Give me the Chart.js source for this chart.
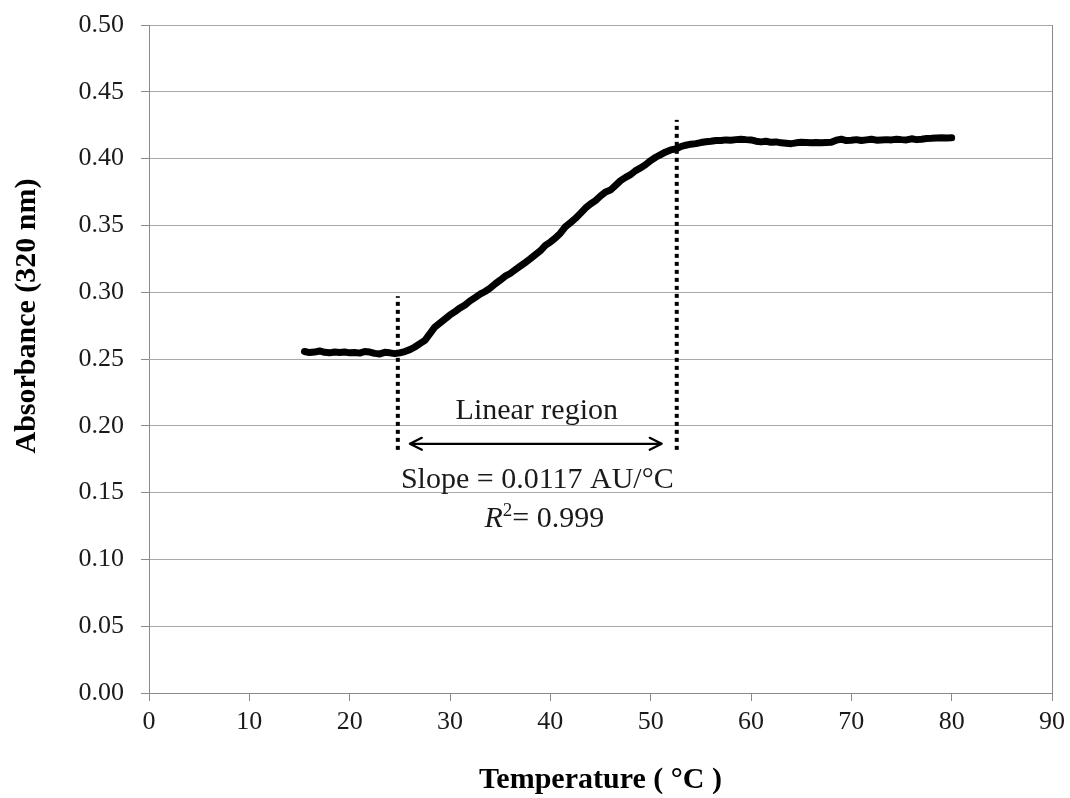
<!DOCTYPE html>
<html>
<head>
<meta charset="utf-8">
<script src="https://cdn.jsdelivr.net/npm/chart.js@4.4.1/dist/chart.umd.min.js"></script>
<style>
  html, body { margin: 0; padding: 0; background: #ffffff; }
  #wrap { width: 1070px; height: 798px; }
</style>
</head>
<body>
<div id="wrap"><canvas id="c" width="1070" height="798"></canvas></div>
<script>
// Temperature scan (°C) and absorbance at 320 nm
const temperature = [
  15.5, 16, 16.5, 17, 17.5, 18, 18.5, 19, 19.5, 20,
  20.5, 21, 21.5, 22, 22.5, 23, 23.5, 24, 24.5, 25,
  25.5, 26, 26.5, 27, 27.5, 28, 28.5, 29, 29.5, 30,
  30.5, 31, 31.5, 32, 32.5, 33, 33.5, 34, 34.5, 35,
  35.5, 36, 36.5, 37, 37.5, 38, 38.5, 39, 39.5, 40,
  40.5, 41, 41.5, 42, 42.5, 43, 43.5, 44, 44.5, 45,
  45.5, 46, 46.5, 47, 47.5, 48, 48.5, 49, 49.5, 50,
  50.5, 51, 51.5, 52, 52.5, 53, 53.5, 54, 54.5, 55,
  55.5, 56, 56.5, 57, 57.5, 58, 58.5, 59, 59.5, 60,
  60.5, 61, 61.5, 62, 62.5, 63, 63.5, 64, 64.5, 65,
  65.5, 66, 66.5, 67, 67.5, 68, 68.5, 69, 69.5, 70,
  70.5, 71, 71.5, 72, 72.5, 73, 73.5, 74, 74.5, 75,
  75.5, 76, 76.5, 77, 77.5, 78, 78.5, 79, 79.5, 80
];
const absorbance = [
  0.2556, 0.2548, 0.2552, 0.2560, 0.2550, 0.2546, 0.2552, 0.2548, 0.2552, 0.2546,
  0.2548, 0.2544, 0.2556, 0.2552, 0.2542, 0.2538, 0.2550, 0.2546, 0.2540, 0.2546,
  0.2556, 0.2570, 0.2590, 0.2615, 0.2640, 0.2690, 0.2740, 0.2770, 0.2800, 0.2830,
  0.2855, 0.2882, 0.2905, 0.2935, 0.2960, 0.2985, 0.3005, 0.3030, 0.3062, 0.3090,
  0.3120, 0.3140, 0.3168, 0.3195, 0.3222, 0.3250, 0.3280, 0.3310, 0.3350, 0.3375,
  0.3405, 0.3442, 0.3490, 0.3520, 0.3552, 0.3590, 0.3630, 0.3660, 0.3685, 0.3720,
  0.3750, 0.3765, 0.3800, 0.3835, 0.3860, 0.3880, 0.3910, 0.3930, 0.3955, 0.3985,
  0.4010, 0.4030, 0.4050, 0.4065, 0.4072, 0.4090, 0.4100, 0.4108, 0.4112, 0.4120,
  0.4126, 0.4130, 0.4136, 0.4135, 0.4140, 0.4138, 0.4142, 0.4145, 0.4142, 0.4140,
  0.4130, 0.4125, 0.4130, 0.4122, 0.4125, 0.4118, 0.4115, 0.4112, 0.4118, 0.4122,
  0.4120, 0.4118, 0.4120, 0.4118, 0.4120, 0.4122, 0.4138, 0.4145, 0.4135, 0.4138,
  0.4142, 0.4135, 0.4140, 0.4145, 0.4138, 0.4140, 0.4142, 0.4140, 0.4145, 0.4142,
  0.4140, 0.4148, 0.4142, 0.4145, 0.4150, 0.4152, 0.4155, 0.4156, 0.4155, 0.4156
];

// Boundaries of the linear region (vertical dotted markers)
const markerStartX = [24.8, 24.8];
const markerStartY = [0.182, 0.297];
const markerEndX = [52.6, 52.6];
const markerEndY = [0.182, 0.429];

// Double arrow spanning the linear region
const arrowFromX = 26.0;
const arrowToX = 51.1;
const arrowY = 0.1865;

// Annotation texts: [text, x, y]
const notes = [
  ['Linear region', 38.65, 0.2112],
  ['Slope = 0.0117 AU/°C', 38.7, 0.1596]
];
const rSquaredNote = { x: 39.4, y: 0.1300, value: '= 0.999' };

// Axis ranges, ticks and titles
const xRange = [0, 90];
const xStep = 10;
const yRange = [0, 0.5];
const yStep = 0.05;
const xTitle = 'Temperature ( °C )';
const yTitle = 'Absorbance (320 nm)';

const serif = "'Liberation Serif', 'Times New Roman', serif";
const gridGrey = '#a9a9a9';
const axisGrey = '#8a8a8a';

function toPoints(xs, ys) { return xs.map((x, i) => ({ x: x, y: ys[i] })); }

const annotationPlugin = {
  id: 'regionNotes',
  afterDraw(chart) {
    const { ctx, chartArea, scales } = chart;
    const xs = scales.x, ys = scales.y;
    ctx.save();

    // right-hand frame line
    ctx.strokeStyle = axisGrey;
    ctx.lineWidth = 1;
    ctx.beginPath();
    ctx.moveTo(Math.round(chartArea.right) + 0.5, chartArea.top);
    ctx.lineTo(Math.round(chartArea.right) + 0.5, chartArea.bottom + 8);
    ctx.stroke();

    // vertical axis title
    ctx.save();
    ctx.translate(27, 316);
    ctx.rotate(-Math.PI / 2);
    ctx.fillStyle = '#000';
    ctx.font = "bold 30px " + serif;
    ctx.textAlign = 'center';
    ctx.textBaseline = 'middle';
    ctx.fillText(yTitle, 0, 0);
    ctx.restore();

    // double-headed arrow
    const ax1 = xs.getPixelForValue(arrowFromX);
    const ax2 = xs.getPixelForValue(arrowToX);
    const ay = ys.getPixelForValue(arrowY);
    ctx.strokeStyle = '#000';
    ctx.lineWidth = 2.2;
    ctx.lineCap = 'round';
    ctx.lineJoin = 'round';
    ctx.beginPath();
    ctx.moveTo(ax1, ay); ctx.lineTo(ax2, ay);
    ctx.moveTo(ax1 + 12, ay - 6); ctx.lineTo(ax1, ay); ctx.lineTo(ax1 + 12, ay + 6);
    ctx.moveTo(ax2 - 12, ay - 6); ctx.lineTo(ax2, ay); ctx.lineTo(ax2 - 12, ay + 6);
    ctx.stroke();

    // text notes
    ctx.fillStyle = '#1a1a1a';
    ctx.font = "30px " + serif;
    ctx.textAlign = 'center';
    ctx.textBaseline = 'middle';
    notes.forEach(([t, x, y]) => {
      ctx.fillText(t, xs.getPixelForValue(x), ys.getPixelForValue(y));
    });

    // R² line: italic R, superscript 2, then value
    const rx = xs.getPixelForValue(rSquaredNote.x);
    const ry = ys.getPixelForValue(rSquaredNote.y);
    const fR = "italic 30px " + serif;
    const fSup = "19px " + serif;
    const fV = "30px " + serif;
    ctx.font = fR; const wR = ctx.measureText('R').width;
    ctx.font = fSup; const wS = ctx.measureText('2').width;
    ctx.font = fV; const wV = ctx.measureText(rSquaredNote.value).width;
    let px = rx - (wR + wS + wV) / 2;
    ctx.textAlign = 'left';
    ctx.font = fR; ctx.fillText('R', px, ry); px += wR;
    ctx.font = fSup; ctx.fillText('2', px, ry - 8); px += wS;
    ctx.font = fV; ctx.fillText(rSquaredNote.value, px, ry);

    ctx.restore();
  }
};

new Chart(document.getElementById('c'), {
  type: 'scatter',
  data: {
    datasets: [
      {
        data: toPoints(temperature, absorbance),
        showLine: true,
        borderColor: '#000000',
        borderWidth: 7,
        borderCapStyle: 'round',
        borderJoinStyle: 'round',
        pointRadius: 0,
        tension: 0
      },
      {
        data: toPoints(markerStartX, markerStartY),
        showLine: true,
        borderColor: '#000000',
        borderWidth: 4,
        borderDash: [4, 4],
        pointRadius: 0
      },
      {
        data: toPoints(markerEndX, markerEndY),
        showLine: true,
        borderColor: '#000000',
        borderWidth: 4,
        borderDash: [4, 4],
        pointRadius: 0
      }
    ]
  },
  options: {
    responsive: false,
    animation: false,
    layout: { padding: { top: 25, right: 18, left: 0, bottom: 0 } },
    plugins: {
      legend: { display: false },
      tooltip: { enabled: false }
    },
    scales: {
      x: {
        type: 'linear',
        min: xRange[0],
        max: xRange[1],
        afterFit(scale) {
          scale.height = 105;
          scale.paddingLeft = 0;
          scale.paddingRight = 0;
        },
        ticks: {
          stepSize: xStep,
          color: '#1a1a1a',
          font: { family: serif, size: 26 },
          padding: 6,
          maxRotation: 0
        },
        grid: {
          drawOnChartArea: false,
          drawTicks: true,
          tickLength: 8,
          color: axisGrey
        },
        border: { display: true, color: axisGrey, width: 1 },
        title: {
          display: true,
          text: xTitle,
          color: '#000',
          font: { family: serif, size: 30, weight: 'bold' },
          padding: 0
        }
      },
      y: {
        type: 'linear',
        min: yRange[0],
        max: yRange[1],
        afterFit(scale) {
          scale.width = 149;
          scale.paddingTop = 0;
          scale.paddingBottom = 0;
        },
        ticks: {
          stepSize: yStep,
          color: '#1a1a1a',
          font: { family: serif, size: 26 },
          padding: 17,
          callback: (v) => v.toFixed(2)
        },
        grid: {
          color: gridGrey,
          tickLength: 8,
          tickColor: axisGrey
        },
        border: { display: true, color: axisGrey, width: 1 },
        title: { display: false }
      }
    }
  },
  plugins: [annotationPlugin]
});
</script>
</body>
</html>
